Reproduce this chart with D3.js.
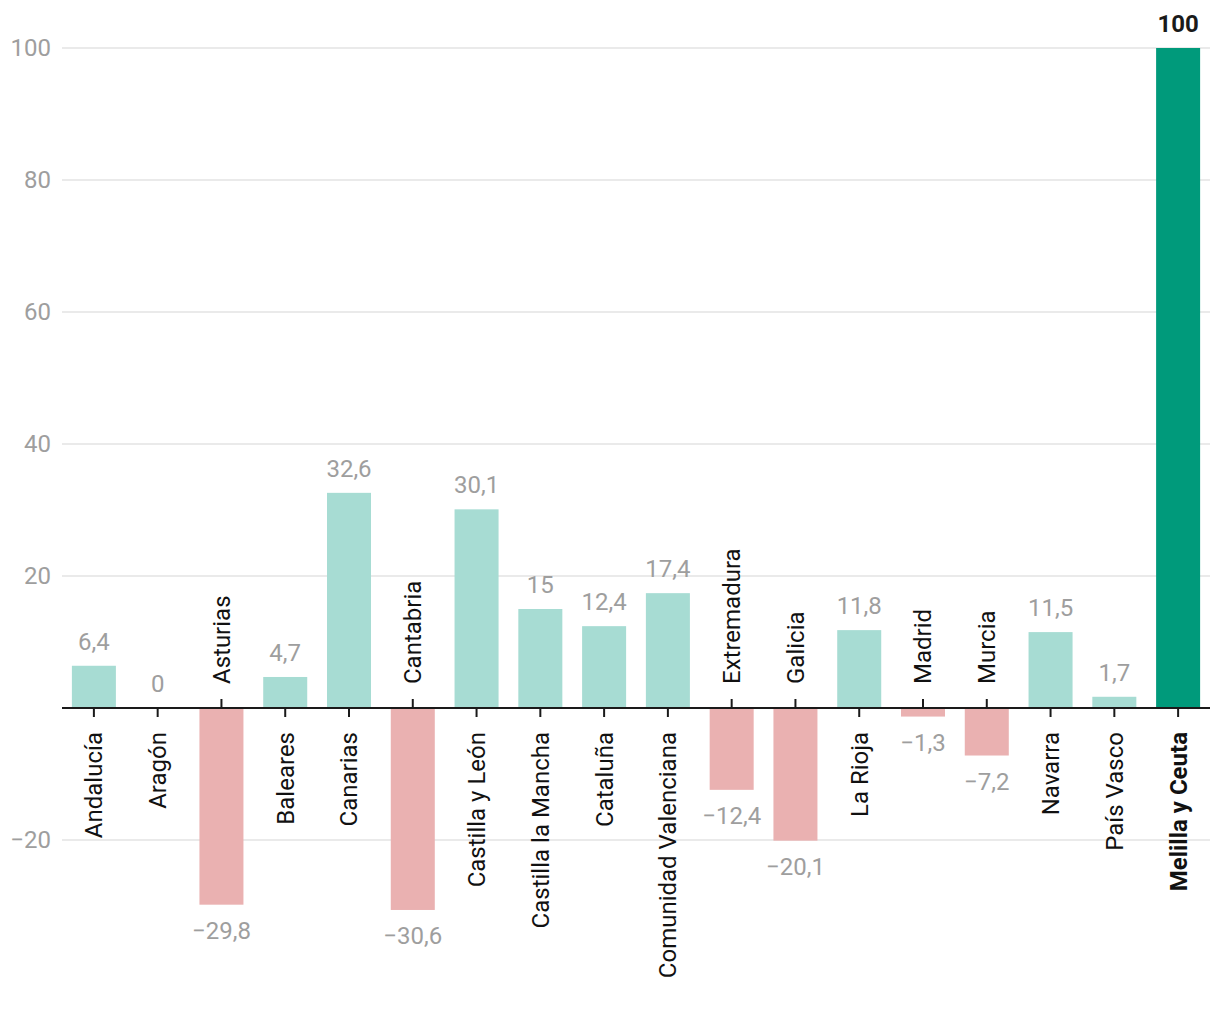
<!DOCTYPE html>
<html><head><meta charset="utf-8">
<script src="https://cdn.jsdelivr.net/npm/d3@7/dist/d3.min.js"></script>
<style>body{margin:0;background:#fff;font-family:Roboto,sans-serif}</style>
</head><body><svg id="c" width="1220" height="1020"></svg>
<script>
const categories = ["Andalucía","Aragón","Asturias","Baleares","Canarias","Cantabria","Castilla y León","Castilla la Mancha","Cataluña","Comunidad Valenciana","Extremadura","Galicia","La Rioja","Madrid","Murcia","Navarra","País Vasco","Melilla y Ceuta"];
const values = [6.4,0,-29.8,4.7,32.6,-30.6,30.1,15,12.4,17.4,-12.4,-20.1,11.8,-1.3,-7.2,11.5,1.7,100];
const highlight = "Melilla y Ceuta";
const yTicks = [-20,0,20,40,60,80,100];

const FS = 24;
const svg = d3.select("#c");
const x = d3.scaleBand().domain(categories).range([62,1210]).paddingInner(0.31).paddingOuter(0.155);
const y = d3.scaleLinear().domain([-20,100]).range([840,48]);
const fmt = v => (v<0?"\u2212":"") + String(Math.abs(v)).replace(".", ",");

// grid
svg.append("g").selectAll("line").data(yTicks.filter(d=>d!==0)).join("line")
  .attr("x1",62).attr("x2",1210).attr("y1",d=>y(d)).attr("y2",d=>y(d))
  .attr("stroke","#e3e3e3").attr("stroke-width",1.5);
svg.append("g").selectAll("text").data(yTicks.filter(d=>d!==0)).join("text")
  .attr("x",51).attr("y",d=>y(d)).attr("dy","0.35em").attr("text-anchor","end")
  .attr("font-size",FS).attr("fill","#9e9e9e").text(d=>fmt(d));

// bars
const data = categories.map((c,i)=>({c,v:values[i]}));
svg.append("g").selectAll("rect").data(data).join("rect")
  .attr("x",d=>x(d.c)).attr("width",x.bandwidth())
  .attr("y",d=>y(Math.max(0,d.v))).attr("height",d=>Math.abs(y(d.v)-y(0)))
  .attr("fill",d=>d.c===highlight?"#009a7b":(d.v<0?"#eab1b1":"#a7dcd3"));

// value labels
svg.append("g").selectAll("text").data(data).join("text")
  .attr("x",d=>x(d.c)+x.bandwidth()/2)
  .attr("y",d=>d.v<0? y(d.v)+34 : y(d.v)-16)
  .attr("text-anchor","middle").attr("font-size",FS)
  .attr("font-weight",d=>d.c===highlight?"700":"400")
  .attr("fill",d=>d.c===highlight?"#1a1a1a":"#9e9e9e")
  .text(d=>fmt(d.v));

// axis line
svg.append("line").attr("x1",62).attr("x2",1210).attr("y1",y(0)).attr("y2",y(0))
  .attr("stroke","#1a1a1a").attr("stroke-width",2);
// ticks + category labels
const g = svg.append("g");
data.forEach(d=>{
  const cx = x(d.c)+x.bandwidth()/2;
  const neg = d.v<0;
  g.append("line").attr("x1",cx).attr("x2",cx).attr("y1",y(0)).attr("y2",y(0)+(neg?-9:9))
    .attr("stroke","#1a1a1a").attr("stroke-width",2);
  g.append("text")
    .attr("transform",`translate(${cx},${neg? y(0)-24 : y(0)+24}) rotate(-90)`)
    .attr("dy","0.35em").attr("text-anchor",neg?"start":"end")
    .attr("font-size",FS).attr("fill","#111")
    .attr("font-weight",d.c===highlight?"700":"400")
    .text(d.c);
});
</script></body></html>
